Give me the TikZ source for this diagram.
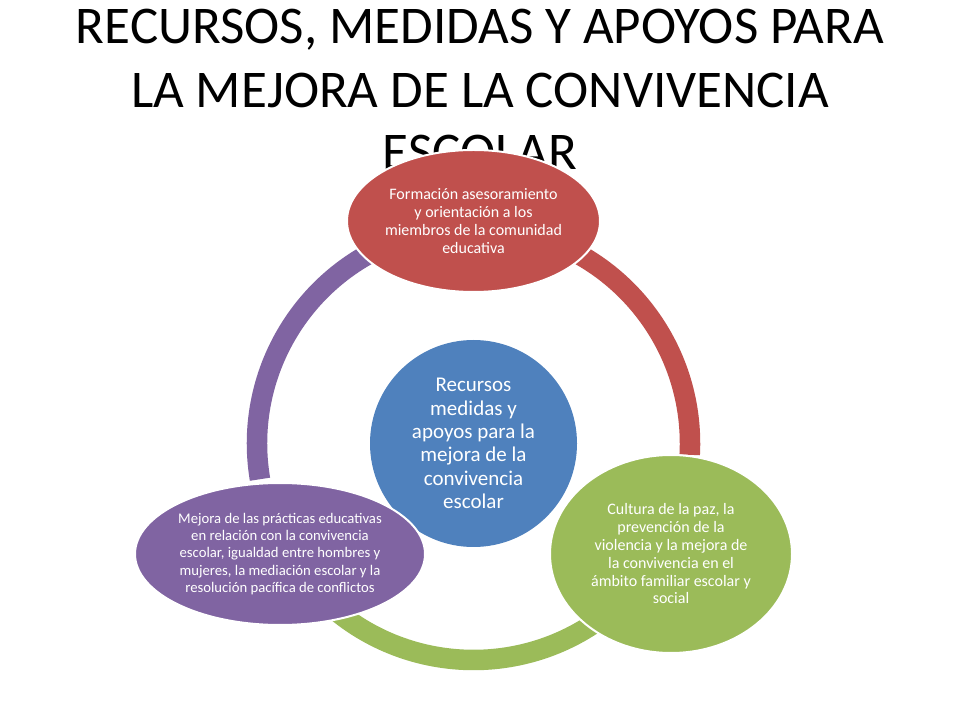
\documentclass[tikz,border=0pt]{standalone}
\usepackage{fontspec}
\setmainfont{Carlito}
\usetikzlibrary{shapes.geometric,calc}
\definecolor{cred}{HTML}{C0504D}
\definecolor{cgreen}{HTML}{9BBB59}
\definecolor{cpurple}{HTML}{8064A2}
\definecolor{cblue}{HTML}{4F81BD}
\begin{document}
\begin{tikzpicture}[x=1pt,y=1pt,
  ringarc/.style={line width=20.5pt, line cap=butt},
  bubble/.style={ellipse, draw=white, line width=2pt, inner sep=0pt},
  smalltxt/.style={text=white, align=center, font=\fontsize{16}{17.8}\selectfont, inner sep=0pt},
  purpletxt/.style={text=white, align=center, font=\fontsize{14.7}{17.3}\selectfont, inner sep=0pt},
  bigtxt/.style={text=white, align=center, font=\fontsize{21}{23.4}\selectfont, inner sep=0pt},
  titletxt/.style={anchor=base, font=\fontsize{53}{62}\selectfont, inner sep=0pt}]
\useasboundingbox (0,0) rectangle (960,720);
\fill[white] (0,0) rectangle (960,720);
\node[titletxt] (t1) at (480,676.5) {RECURSOS, MEDIDAS Y APOYOS PARA};
\node[titletxt] (t2) at (480,612.5) {LA MEJORA DE LA CONVIVENCIA};
\node[titletxt] (t3) at (480,550) {ESCOLAR};
\coordinate (c) at (473.5,276.5);
\draw[ringarc, cpurple] ($(c)+(105:216.5pt)$) arc[start angle=105, end angle=189.5, radius=216.5pt];
\draw[ringarc, cred] ($(c)+(75:216.5pt)$) arc[start angle=75, end angle=-3, radius=216.5pt];
\draw[ringarc, cgreen] ($(c)+(-50:216.5pt)$) arc[start angle=-50, end angle=-135, radius=216.5pt];
\node[circle, fill=cblue, minimum size=207pt, inner sep=0pt] (hub) at (c) {};
\node[bigtxt] (hubt) at (hub) {Recursos\\medidas y\\apoyos para la\\mejora de la\\convivencia\\escolar};
\node[bubble, fill=cred, minimum width=253pt, minimum height=142pt] (top) at (473.5,499) {};
\node[smalltxt] (topt) at (top) {Formación asesoramiento\\y orientación a los\\miembros de la comunidad\\educativa};
\node[bubble, fill=cgreen, minimum width=242pt, minimum height=198pt] (right) at (671,166) {};
\node[smalltxt] (rightt) at (right) {Cultura de la paz, la\\prevención de la\\violencia y la mejora de\\la convivencia en el\\ámbito familiar escolar y\\social};
\node[bubble, fill=cpurple, minimum width=290pt, minimum height=142pt] (left) at (280,166) {};
\node[purpletxt] (leftt) at (left) {Mejora de las prácticas educativas\\en relación con la convivencia\\escolar, igualdad entre hombres y\\mujeres, la mediación escolar y la\\resolución pacífica de conflictos};
\end{tikzpicture}
\end{document}
